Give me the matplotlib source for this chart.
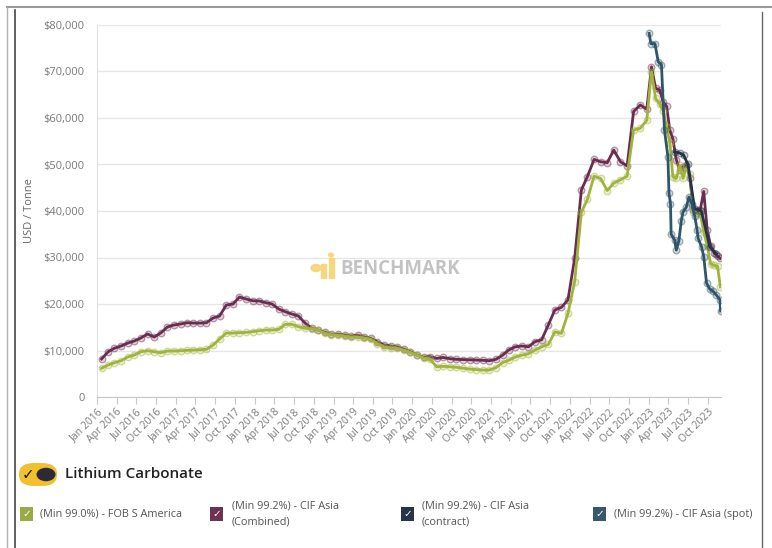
import matplotlib
matplotlib.use("Agg")
import matplotlib.pyplot as plt
from matplotlib.lines import Line2D
from matplotlib.patches import FancyBboxPatch, Circle, Rectangle
from matplotlib.ticker import FuncFormatter
import pandas as pd

plt.rcParams['font.family'] = ['Open Sans', 'DejaVu Sans']

# ---------------- data ----------------
monthly_start = '2016-01-01'
monthly_end = '2022-12-01'

fob_monthly = [6170, 6880, 7380, 7810, 8600, 9030, 9740, 9960, 9740, 9530, 9890, 9890,
               9960, 10040, 10100, 10180, 10250, 11180, 12470, 13760, 13760, 13830, 13900, 14050,
               14260, 14400, 14400, 14550, 15630, 15630, 15120, 14760, 14700, 14400, 13700, 13400,
               13300, 13100, 12900, 12900, 12700, 12400, 11500, 10800, 10600, 10500, 10100, 9600,
               9000, 8400, 8200, 6500, 6600, 6500, 6400, 6200, 6000, 5900, 5800, 5800,
               6300, 7400, 7900, 8600, 9000, 9300, 10100, 10800, 11300, 14000, 13700, 18000,
               24800, 39700, 42500, 47500, 47000, 44400, 46000, 46700, 47500, 57400, 57800, 59500]

cif_monthly = [8170, 9740, 10500, 10970, 11600, 12040, 12690, 13550, 12900, 13760, 15050, 15480,
               15700, 15980, 15900, 15900, 15980, 16990, 17420, 19780, 20000, 21500, 21080, 20700,
               20650, 20280, 20000, 18920, 18350, 17850, 17420, 15900, 14760, 14400, 13900, 13500,
               13500, 13300, 13100, 13300, 12950, 12600, 11900, 11200, 10970, 10800, 10300, 9750,
               9030, 8550, 8700, 8300, 8500, 8250, 8100, 8050, 8000, 7950, 7900, 7800,
               8100, 9000, 10100, 10800, 10970, 10800, 11900, 12300, 15500, 18700, 19300, 20900,
               29800, 44500, 47400, 51100, 50600, 50400, 53100, 50600, 49700, 61400, 62800, 61900]

dates_2023 = ['2023-01-13', '2023-02-01', '2023-02-20', '2023-03-08', '2023-03-24', '2023-04-08',
              '2023-04-22', '2023-05-08', '2023-05-24', '2023-06-08', '2023-06-24', '2023-07-10',
              '2023-07-26', '2023-08-11', '2023-08-27', '2023-09-12', '2023-09-28', '2023-10-14',
              '2023-10-30', '2023-11-15', '2023-11-28']
fob_2023 = [69960, 64200, 63000, 61500, 58000, 54600, 47400, 47000, 49800, 47000, 49500, 48000,
            39800, 39600, 39400, 35500, 32500, 28600, 28300, 28100, 23700]
cif_2023 = [71000, 66400, 66000, 63500, 62500, 57400, 55500, 51000, 48800, 49500, 49800, 47000,
            40200, 40200, 40300, 44200, 36000, 32500, 31000, 30300, 29800]

spot_dates = ['2023-01-02', '2023-01-10', '2023-01-29', '2023-02-13', '2023-02-28', '2023-03-14',
              '2023-03-30', '2023-04-04', '2023-04-11', '2023-04-14', '2023-04-30', '2023-05-08',
              '2023-05-20', '2023-05-31', '2023-06-08', '2023-06-23', '2023-07-05', '2023-07-18',
              '2023-08-01', '2023-08-12', '2023-08-17', '2023-09-02', '2023-09-12', '2023-09-25',
              '2023-10-10', '2023-10-24', '2023-11-10', '2023-11-26', '2023-11-29']
spot_values = [78200, 76000, 76000, 72100, 71500, 57400, 51700, 43800, 41600, 35000, 33800, 31600,
               33600, 37900, 39800, 40800, 43000, 41600, 39000, 36000, 34100, 32300, 30200, 24500,
               23200, 22800, 21900, 20900, 18500]

contract_dates = ['2023-04-30', '2023-05-23', '2023-06-11', '2023-07-01', '2023-08-01',
                  '2023-09-01', '2023-10-10', '2023-11-10']
contract_values = [52700, 52500, 52000, 50000, 40500, 40000, 32300, 30800]

series_labels = ['(Min 99.0%) - FOB S America', '(Min 99.2%) - CIF Asia\n(Combined)',
                 '(Min 99.2%) - CIF Asia\n(contract)', '(Min 99.2%) - CIF Asia (spot)']
y_ticks = [0, 10000, 20000, 30000, 40000, 50000, 60000, 70000, 80000]

# ---------------- build series ----------------
mdates_list = pd.date_range(monthly_start, monthly_end, freq='MS') + pd.Timedelta(days=21)
fob_x = list(mdates_list) + list(pd.to_datetime(dates_2023))
fob_y = fob_monthly + fob_2023
cif_x = list(mdates_list) + list(pd.to_datetime(dates_2023))
cif_y = cif_monthly + cif_2023
spot_x = pd.to_datetime(spot_dates)
con_x = pd.to_datetime(contract_dates)

c_green = '#a0b43c'
c_purple = '#6b2d4f'
c_navy = '#233247'
c_teal = '#2f5668'

W, H = 772, 548
fig = plt.figure(figsize=(W / 100, H / 100), dpi=100)
fig.patch.set_facecolor('white')

L, R, T, B = 97, 721, 25, 397
ax = fig.add_axes([L / W, 1 - B / H, (R - L) / W, (B - T) / H])


def draw(x, y, color, z):
    ax.plot(x, y, color=color, lw=2.0, zorder=z, solid_joinstyle='round',
            marker='o', ms=4.8, mfc=matplotlib.colors.to_rgba(color, 0.22),
            mec=matplotlib.colors.to_rgba(color, 0.45), mew=0.9)


draw(cif_x, cif_y, c_purple, 3)
draw(fob_x, fob_y, c_green, 4)
draw(con_x, contract_values, c_navy, 5)
draw(spot_x, spot_values, c_teal, 6)

ax.set_ylim(0, 80000)
ax.set_xlim(pd.Timestamp('2016-01-01'), pd.Timestamp('2023-12-01'))
ax.set_yticks(y_ticks)
ax.yaxis.set_major_formatter(FuncFormatter(lambda v, p: '0' if v == 0 else '${:,.0f}'.format(v)))
xt = pd.date_range('2016-01-01', '2023-10-01', freq='QS')
ax.set_xticks(xt)
ax.set_xticklabels([d.strftime('%b %Y') for d in xt], rotation=45, ha='right',
                   rotation_mode='anchor')
ax.grid(axis='y', color='#e6e6e6', lw=1)
ax.set_axisbelow(True)
for s in ['top', 'right']:
    ax.spines[s].set_visible(False)
ax.spines['left'].set_color('#e2e2e2')
ax.spines['bottom'].set_color('#c8c8c8')
ax.tick_params(axis='y', length=0, pad=9, labelsize=8, labelcolor='#7a7a7a')
ax.tick_params(axis='x', length=5, color='#c8c8c8', pad=2, labelsize=7.5, labelcolor='#7a7a7a')
ax.set_ylabel('USD / Tonne', fontsize=8, color='#666666', labelpad=6)

# watermark
fig.text(340 / W, 1 - 269 / H, 'BENCHMARK', fontsize=13.5, fontweight='bold', color='#bdbdbd',
         ha='left', va='center', alpha=0.9)
wm = '#f6d77f'
fig.add_artist(Rectangle((321 / W, 1 - 278 / H), 5 / W, 14 / H, color=wm, transform=fig.transFigure))
fig.add_artist(Rectangle((329 / W, 1 - 278 / H), 5 / W, 20 / H, color=wm, transform=fig.transFigure))
fig.add_artist(Circle((316 / W, 1 - 268 / H), 5 / W, color=wm, transform=fig.transFigure))
fig.add_artist(Circle((331 / W, 1 - 255 / H), 2.5 / W, color=wm, transform=fig.transFigure))

# frame lines
def fline(x0, y0, x1, y1, color, lw=1.2):
    fig.add_artist(Line2D([x0 / W, x1 / W], [1 - y0 / H, 1 - y1 / H], color=color, lw=lw,
                          transform=fig.transFigure))

fline(7, 7, 772, 7, '#9a9a9a', 1.5)
fline(7, 7, 7, 548, '#b0b0b0', 1.0)
fline(15, 10, 15, 548, '#444444', 1.2)
fline(762, 12, 762, 548, '#666666', 1.0)

# toggle
fig.add_artist(FancyBboxPatch((19 / W, 1 - 486 / H), 38 / W, 23 / H,
                              boxstyle='round,pad=0,rounding_size=0.02', transform=fig.transFigure,
                              facecolor='#f2bf2d', edgecolor='none'))
fig.text(28 / W, 1 - 475 / H, '✓', family='DejaVu Sans', fontsize=11, color='#1a1a1a',
         ha='center', va='center')
fig.add_artist(Circle((46 / W, 1 - 474.5 / H), 9.5 / W, transform=fig.transFigure,
                      facecolor='#2a2b36', edgecolor='none'))
fig.text(65 / W, 1 - 474 / H, 'Lithium Carbonate', fontsize=11, color='#222222',
         ha='left', va='center', fontweight='semibold')

# legend
leg_cols = ['#9aab45', '#6d3354', '#26344b', '#36596b']
box_x = [20, 210, 401, 593]
txt_x = [40, 232, 422, 614]
for col, bx, tx, lab in zip(leg_cols, box_x, txt_x, series_labels):
    fig.add_artist(Rectangle((bx / W, 1 - 521 / H), 13 / W, 14 / H, transform=fig.transFigure,
                             facecolor=col, edgecolor='none'))
    fig.text((bx + 6.5) / W, 1 - 514 / H, '✓', family='DejaVu Sans', fontsize=7.5,
             color='white', ha='center', va='center')
    fig.text(tx / W, 1 - 514 / H, lab, fontsize=7.8, color='#555555', ha='left', va='center',
             linespacing=1.6)

fig.savefig('out.png', dpi=100)
